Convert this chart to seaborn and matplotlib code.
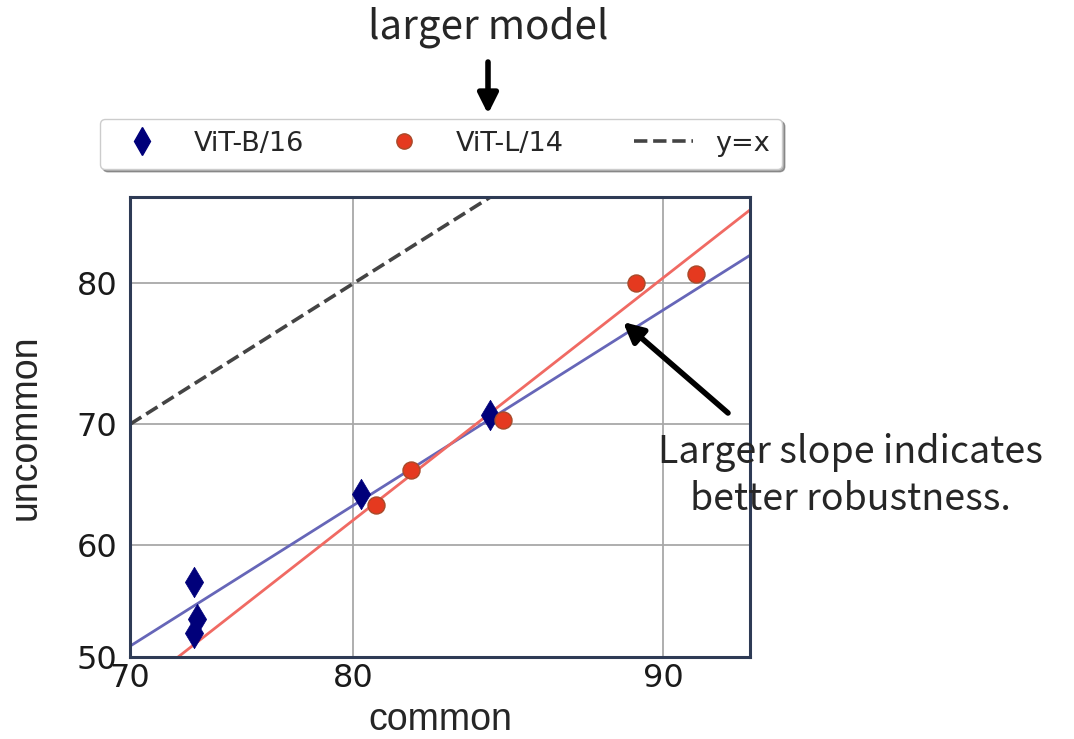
import numpy as np
import pandas as pd
import matplotlib
matplotlib.use("Agg")
import matplotlib.pyplot as plt
from matplotlib.lines import Line2D
import seaborn as sns
from statistics import NormalDist

# accuracies (%)
b_common = [73.1, 73.2, 73.1, 80.3, 85.0]
b_uncommon = [56.7, 53.4, 52.2, 64.3, 70.7]
l_common = [80.9, 82.2, 85.4, 89.3, 90.8]
l_uncommon = [63.4, 66.3, 70.3, 80.0, 80.6]

# linear fits in probit space (slope, intercept)
fit_b = (1.00, -0.50)
fit_l = (1.24, -0.735)

x_ticks = [70, 80, 90]
y_ticks = [50, 60, 70, 80]
x_lim = (70, 92)
y_lim = (50, 85)

_nd = NormalDist()
_ppf = np.vectorize(_nd.inv_cdf, otypes=[float])
_cdf = np.vectorize(_nd.cdf, otypes=[float])


def probit(v):
    v = np.clip(np.asarray(v, dtype=float) / 100.0, 1e-6, 1 - 1e-6)
    return _ppf(v)


def inv_probit(z):
    return _cdf(np.asarray(z, dtype=float)) * 100.0


sns.set_style("white")
plt.rcParams['font.family'] = ['DejaVu Sans']

fig = plt.figure(figsize=(10.74, 7.39), dpi=100)
ax = fig.add_axes([130 / 1074, 82 / 739, 620 / 1074, 460 / 739])
ax.set_xscale('function', functions=(probit, inv_probit))
ax.set_yscale('function', functions=(probit, inv_probit))

blue = '#00007a'
red = '#e5391f'

df_b = pd.DataFrame({'common': b_common, 'uncommon': b_uncommon})
df_l = pd.DataFrame({'common': l_common, 'uncommon': l_uncommon})

# y = x reference
xx = np.linspace(x_lim[0], 99, 200)
ax.plot(xx, xx, ls='--', color='#444444', lw=2.6, zorder=2)

# fit lines (straight in probit space)
for (slope, icpt), col in [(fit_b, '#6666b8'), (fit_l, '#f06a63')]:
    yy = inv_probit(icpt + slope * probit(xx))
    ax.plot(xx, yy, color=col, lw=2.0, zorder=2)

sns.scatterplot(data=df_b, x='common', y='uncommon', marker='d', s=240,
                color=blue, edgecolor=blue, linewidth=0.5, ax=ax, zorder=4)
sns.scatterplot(data=df_l, x='common', y='uncommon', marker='o', s=150,
                color=red, edgecolor='#a84a2a', linewidth=1.0, ax=ax, zorder=4)

ax.set_xlim(*x_lim)
ax.set_ylim(*y_lim)
ax.set_xticks(x_ticks)
ax.set_yticks(y_ticks)
ax.set_xticklabels([str(t) for t in x_ticks])
ax.set_yticklabels([str(t) for t in y_ticks])
ax.minorticks_off()
ax.tick_params(axis='both', length=0, labelsize=23, labelcolor='#1a1a1a')
ax.tick_params(axis='y', pad=9)
ax.tick_params(axis='x', pad=4)
ax.grid(True, color='#a8a8a8', lw=1.3)
ax.set_axisbelow(True)
for sp in ax.spines.values():
    sp.set_color('#2e3b55')
    sp.set_linewidth(2.2)

ax.set_xlabel('common', fontsize=27, family='Liberation Sans', labelpad=6)
ax.set_ylabel('uncommon', fontsize=27, family='Liberation Sans', labelpad=24)

# legend above the axes
handles = [
    Line2D([], [], marker='d', ls='', color=blue, markersize=14),
    Line2D([], [], marker='o', ls='', color=red, markeredgecolor='#a84a2a', markersize=11),
    Line2D([], [], ls='--', color='#444444', lw=2.6),
]
fig.legend(handles, ['ViT-B/16', 'ViT-L/14', 'y=x'], ncol=3,
           loc='lower left', mode='expand', borderaxespad=0,
           bbox_to_anchor=(100 / 1074, 1 - 169 / 739, 682 / 1074, 50 / 739),
           fontsize=19.5, frameon=True, shadow=True, fancybox=True,
           handlelength=2.2, handletextpad=0.8, columnspacing=2.2,
           borderpad=0.45, edgecolor='#cccccc')

# annotations
ann_font = ['Noto Sans CJK SC', 'DejaVu Sans']
fig.text(488, 739 - 27, 'larger model', fontsize=29, family=ann_font,
         weight='light', ha='center', va='center', transform=None)
fig.text(850, 739 - 476, 'Larger slope indicates\nbetter robustness.',
         fontsize=27, family=ann_font, weight='light', ha='center',
         va='center', multialignment='center', linespacing=1.3,
         transform=None)
fig.add_artist(plt.Annotation('', xy=(488, 739 - 114), xytext=(488, 739 - 62),
                              xycoords='figure pixels',
                              arrowprops=dict(arrowstyle='-|>', lw=4, color='black',
                                              mutation_scale=30, shrinkA=0, shrinkB=0)))
fig.add_artist(plt.Annotation('', xy=(623, 739 - 322), xytext=(728, 739 - 413),
                              xycoords='figure pixels',
                              arrowprops=dict(arrowstyle='-|>', lw=4, color='black',
                                              mutation_scale=30, shrinkA=0, shrinkB=0)))

fig.savefig('out.png', dpi=100, facecolor='white')
